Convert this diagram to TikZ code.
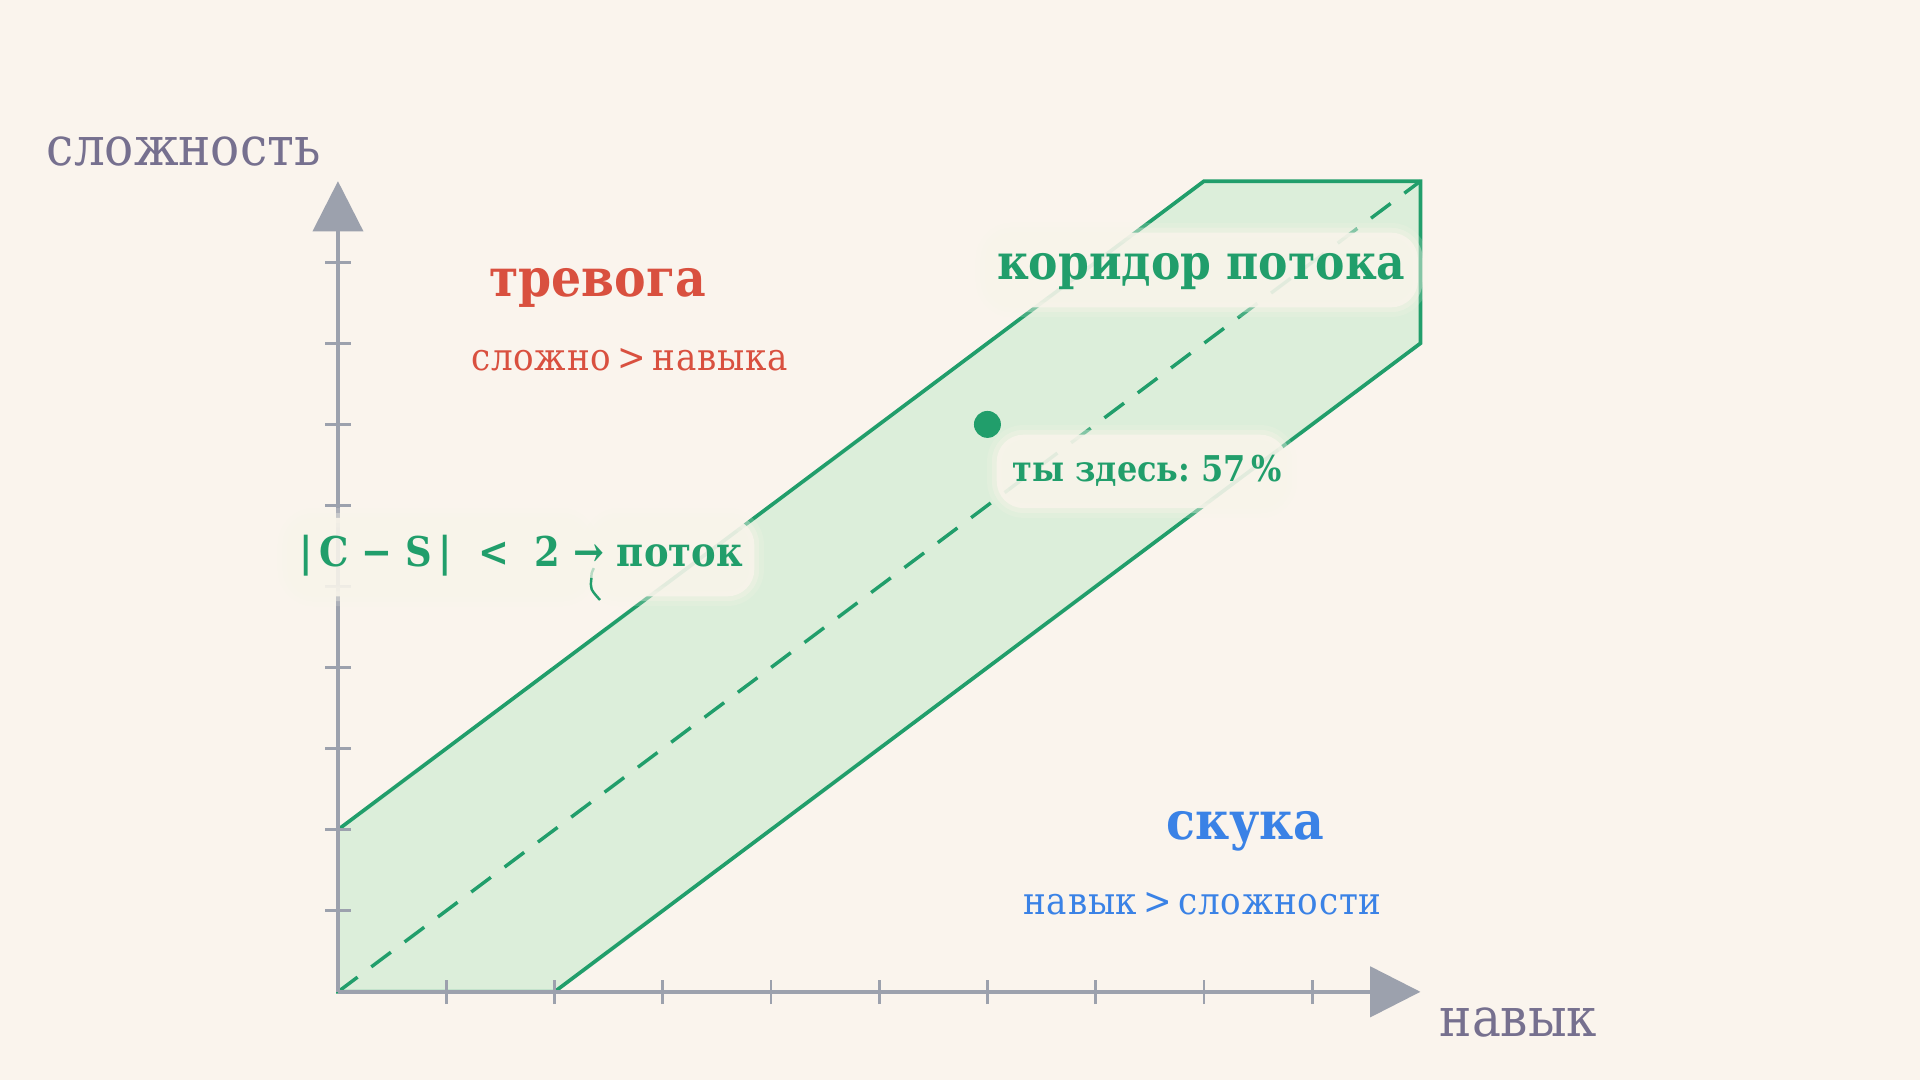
\documentclass[tikz,border=0pt]{standalone}
\usepackage{fontspec}
\setmainfont{DejaVu Serif Condensed}
\usetikzlibrary{arrows.meta}
\definecolor{bg}{HTML}{FAF4ED}
\definecolor{axisgray}{HTML}{9CA1AD}
\definecolor{labgray}{HTML}{76708F}
\definecolor{flow}{HTML}{219E6B}
\definecolor{flowfill}{HTML}{DCEEDA}
\definecolor{anx}{HTML}{D9503F}
\definecolor{bore}{HTML}{3A82E6}
\definecolor{glowc}{HTML}{F8F4EA}
\tikzset{
  axisline/.style={draw=axisgray, line width=2.8pt, -{Triangle[width=41pt,length=41pt]}},
  tickline/.style={draw=axisgray, line width=2.3pt},
  axislabel/.style={text=labgray, font=\fontsize{44}{50}\selectfont, anchor=base, inner sep=0pt},
  zonetitle/.style={font=\bfseries\fontsize{43}{50}\selectfont, anchor=base, inner sep=0pt},
  zonesub/.style={font=\addfontfeatures{LetterSpace=2}\fontsize{31}{36}\selectfont, anchor=base, inner sep=0pt},
  flowlabel/.style={text=flow, font=\frenchspacing\bfseries\fontsize{#1}{50}\selectfont, anchor=base, inner sep=0pt},
  glowbox/.style={fill=glowc, rounded corners=22pt,
     preaction={draw=glowc, line width=16pt, draw opacity=0.18, rounded corners=22pt},
     preaction={draw=glowc, line width=8pt, draw opacity=0.35, rounded corners=22pt},
     fill opacity=0.9},
  corridor/.style={draw=flow, line width=3pt, line join=miter},
  diag/.style={draw=flow, line width=2.8pt, dash pattern=on 20pt off 14pt},
}
\begin{document}
\begin{tikzpicture}[x=1pt,y=1pt]
\fill[bg] (0,0) rectangle (1568,882);
\useasboundingbox (0,0) rectangle (1568,882);
\begin{scope}[shift={(276,72)}, x=88.4pt, y=66.2pt]
  \coordinate (O) at (0,0);
  \coordinate (P1) at (2,0);
  \coordinate (P2) at (10,8);
  \coordinate (P3) at (10,10);
  \coordinate (P4) at (8,10);
  \coordinate (P5) at (0,2);
  \coordinate (XT) at (10,0);
  \coordinate (YT) at (0,10);
  \fill[flowfill] (O) -- (P1) -- (P2) -- (P3) -- (P4) -- (P5) -- cycle;
  \draw[diag] (O) -- (P3);
  \draw[corridor] (O) -- (P1) -- (P2) -- (P3) -- (P4) -- (P5) -- cycle;
  \draw[axisline] (O) -- (XT);
  \draw[axisline] (O) -- (YT);
  \foreach \i in {1,...,9} {
    \draw[tickline] (\i,0) ++(0,-10pt) -- ++(0,20pt);
    \draw[tickline] (0,\i) ++(-10.5pt,0) -- ++(21pt,0);
  }
  \fill[flow] (6,7) circle[radius=11pt] coordinate (you);
\end{scope}
% glow boxes
\path[glowbox] (235,395) rectangle (480,459);
\path[glowbox] (484,395) rectangle (616,459);
\path[glowbox] (814,467) rectangle (1051,527);
\path[glowbox] (805,631) rectangle (1158,692);
% leader fragment
\coordinate (lf1) at (483,410);
\coordinate (lf2) at (490,392);
\draw[flow, line width=2pt, draw opacity=0.3] (485,418) .. controls (483,414) .. (lf1);
\draw[flow, line width=2pt] (lf1) .. controls (482,401) .. (lf2);
% texts
\node[axislabel] (ylab) at (150,746.7) {сложность};
\node[axislabel] (xlab) at (1240,35.4) {навык};
\node[zonetitle, text=anx] (anxt) at (488,639.5) {тревога};
\node[zonesub, text=anx] (anxs) at (514,579.3) {сложно\,>\,навыка};
\node[zonetitle, text=bore] (bort) at (1017,196) {скука};
\node[zonesub, text=bore] (bors) at (982,135.5) {навык\,>\,сложности};
\node[flowlabel=40] (corr) at (981,654) {коридор потока};
\node[flowlabel=29] (here) at (937,488.6) {ты здесь: 57\,\%};
\node[flowlabel=33.5] (rule) at (425.5,419.2) {|\,C − S\,| \ < \ 2 → поток};
\end{tikzpicture}
\end{document}
